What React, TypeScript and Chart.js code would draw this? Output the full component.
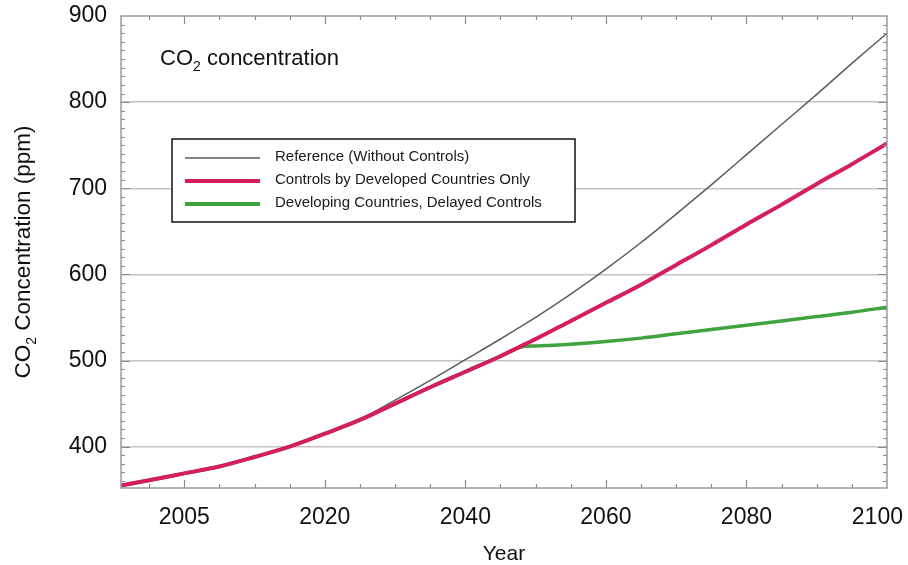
import { useEffect, useRef } from 'react';
import { Chart, registerables } from 'chart.js';

Chart.register(...registerables);

// ---- data ----
const years = [1991, 1995, 2000, 2005, 2010, 2015, 2020, 2025, 2030, 2035, 2040, 2045, 2048, 2050, 2055, 2060, 2065, 2070, 2075, 2080, 2085, 2090, 2095, 2100];
const referenceCO2 = [355, 361, 369, 377, 388, 400, 415, 432, 454, 477, 501, 525, 540, 550, 577, 606, 637, 670, 704, 739, 774, 809, 845, 880];
const developedOnlyCO2 = [355, 361, 369, 377, 388, 400, 415, 431, 450, 469, 487, 505, 517, 525, 546, 567, 588, 611, 634, 658, 681, 705, 728, 752];
const delayedControlsCO2 = [355, 361, 369, 377, 388, 400, 415, 431, 450, 469, 487, 505, 516, 517, 519, 522, 526, 531, 536, 541, 546, 551, 556, 562];
const seriesLabels = ['Reference (Without Controls)', 'Controls by Developed Countries Only', 'Developing Countries, Delayed Controls'];
const xTickValues = [2000, 2020, 2040, 2060, 2080, 2100];
const xTickLabels = ['2005', '2020', '2040', '2060', '2080', '2100'];
const yTickValues = [400, 500, 600, 700, 800, 900];
const xAxisTitle = 'Year';
const yTitleParts = ['CO', '2', ' Concentration (ppm)'];
const chartTitleParts = ['CO', '2', ' concentration'];

const FONT = "'Liberation Sans', Arial, Helvetica, sans-serif";

function drawSubText(ctx: CanvasRenderingContext2D, parts: string[], x: number, y: number, size: number, subSize: number, subDrop: number, align: 'left' | 'center') {
  ctx.font = `${size}px ${FONT}`;
  const w0 = ctx.measureText(parts[0]).width;
  const w2 = ctx.measureText(parts[2]).width;
  ctx.font = `${subSize}px ${FONT}`;
  const w1 = ctx.measureText(parts[1]).width;
  const total = w0 + w1 + w2;
  let sx = align === 'center' ? x - total / 2 : x;
  ctx.textAlign = 'left';
  ctx.textBaseline = 'alphabetic';
  ctx.font = `${size}px ${FONT}`;
  ctx.fillText(parts[0], sx, y);
  sx += w0;
  ctx.font = `${subSize}px ${FONT}`;
  ctx.fillText(parts[1], sx, y + subDrop);
  sx += w1;
  ctx.font = `${size}px ${FONT}`;
  ctx.fillText(parts[2], sx, y);
}

const decorPlugin = {
  id: 'decor',
  afterDatasetsDraw(chart: any) {
    const { ctx, chartArea: a, scales } = chart;
    const xs = scales.x;
    const ys = scales.y;
    ctx.save();
    ctx.strokeStyle = '#8a8a8a';
    ctx.lineWidth = 1.2;
    ctx.beginPath();
    for (let v = 1995; v < 2100; v += 5) {
      const px = Math.round(xs.getPixelForValue(v)) + 0.5;
      const len = v % 20 === 0 ? 8 : 4;
      ctx.moveTo(px, a.bottom);
      ctx.lineTo(px, a.bottom - len);
      ctx.moveTo(px, a.top);
      ctx.lineTo(px, a.top + len);
    }
    for (let v = 360; v < 900; v += 10) {
      const py = Math.round(ys.getPixelForValue(v)) + 0.5;
      const len = v % 100 === 0 ? 9 : 4;
      ctx.moveTo(a.left, py);
      ctx.lineTo(a.left + len, py);
      ctx.moveTo(a.right, py);
      ctx.lineTo(a.right - len, py);
    }
    ctx.stroke();
    ctx.strokeStyle = '#9a9a9a';
    ctx.lineWidth = 1.5;
    ctx.strokeRect(a.left, a.top, a.right - a.left, a.bottom - a.top);
    ctx.restore();
  },
  afterDraw(chart: any) {
    const { ctx, chartArea: a } = chart;
    ctx.save();
    ctx.fillStyle = '#111';
    // in-plot title
    drawSubText(ctx, chartTitleParts, 160, 65, 22, 14, 6, 'left');
    // y axis title (rotated)
    ctx.save();
    ctx.translate(30, (a.top + a.bottom) / 2);
    ctx.rotate(-Math.PI / 2);
    drawSubText(ctx, yTitleParts, 0, 0, 22.5, 14, 6, 'center');
    ctx.restore();

    // legend box
    const bx = 172, by = 139, bw = 403, bh = 83;
    ctx.fillStyle = '#fff';
    ctx.fillRect(bx, by, bw, bh);
    ctx.strokeStyle = '#111';
    ctx.lineWidth = 1.5;
    ctx.strokeRect(bx, by, bw, bh);
    const rows = [158, 181, 204];
    chart.data.datasets.forEach((ds: any, i: number) => {
      ctx.beginPath();
      ctx.strokeStyle = ds.borderColor;
      ctx.lineWidth = i === 0 ? 1.5 : 4;
      ctx.moveTo(185, rows[i]);
      ctx.lineTo(260, rows[i]);
      ctx.stroke();
      ctx.fillStyle = '#1a1a1a';
      ctx.font = `15px ${FONT}`;
      ctx.textAlign = 'left';
      ctx.textBaseline = 'middle';
      ctx.fillText(ds.label, 275, rows[i] - 1);
    });
    ctx.restore();
  },
};

export default function App() {
  const canvasRef = useRef<HTMLCanvasElement | null>(null);

  useEffect(() => {
    if (!canvasRef.current) return;
    const mk = (vals: number[]) => years.map((x, i) => ({ x, y: vals[i] }));
    const chart = new Chart(canvasRef.current, {
      type: 'line',
      data: {
        datasets: [
          {
            label: seriesLabels[0],
            data: mk(referenceCO2),
            borderColor: '#5c5c5c',
            borderWidth: 1.5,
            pointRadius: 0,
            cubicInterpolationMode: 'monotone',
            order: 1,
          },
          {
            label: seriesLabels[1],
            data: mk(developedOnlyCO2),
            borderColor: '#d41f5a',
            borderWidth: 4,
            pointRadius: 0,
            cubicInterpolationMode: 'monotone',
            order: 0,
          },
          {
            label: seriesLabels[2],
            data: mk(delayedControlsCO2),
            borderColor: '#3fa33f',
            borderWidth: 3.5,
            pointRadius: 0,
            cubicInterpolationMode: 'monotone',
            order: 2,
          },
        ],
      },
      options: {
        animation: false,
        responsive: true,
        maintainAspectRatio: false,
        layout: { padding: { top: 16, right: 21, left: 0, bottom: 0 } },
        plugins: { legend: { display: false }, tooltip: { enabled: false } },
        scales: {
          x: {
            type: 'linear',
            min: 1991,
            max: 2100,
            afterBuildTicks: (s: any) => {
              s.ticks = xTickValues.map((v) => ({ value: v }));
            },
            afterFit: (s: any) => {
              s.height = 77;
              s.paddingLeft = 0;
              s.paddingRight = 0;
            },
            ticks: {
              autoSkip: false,
              maxRotation: 0,
              padding: 16,
              color: '#111',
              font: { family: FONT, size: 23 },
              callback: (v: any) => {
                const i = xTickValues.indexOf(Number(v));
                if (i < 0) return '';
                return i === xTickValues.length - 1 ? xTickLabels[i] + '   ' : xTickLabels[i];
              },
            },
            grid: { display: false, drawTicks: false, drawOnChartArea: false },
            border: { display: false },
            title: {
              display: true,
              text: xAxisTitle,
              color: '#111',
              font: { family: FONT, size: 21, lineHeight: 1 },
              padding: { top: 0, bottom: 0 },
            },
          },
          y: {
            type: 'linear',
            min: 352,
            max: 900,
            afterBuildTicks: (s: any) => {
              s.ticks = yTickValues.map((v) => ({ value: v }));
            },
            afterFit: (s: any) => {
              s.width = 121;
              s.paddingTop = 0;
              s.paddingBottom = 0;
            },
            ticks: {
              padding: 14,
              color: '#111',
              font: { family: FONT, size: 23 },
            },
            grid: {
              drawTicks: false,
              lineWidth: 1.5,
              color: (c: any) => (c.tick && c.tick.value < 900 ? '#c4c4c4' : 'rgba(0,0,0,0)'),
            },
            border: { display: false },
          },
        },
      },
      plugins: [decorPlugin],
    } as any);
    return () => chart.destroy();
  }, []);

  return (
    <div style={{ position: 'fixed', left: 0, top: 0, width: 908, height: 565, background: '#fff' }}>
      <canvas ref={canvasRef} />
    </div>
  );
}
